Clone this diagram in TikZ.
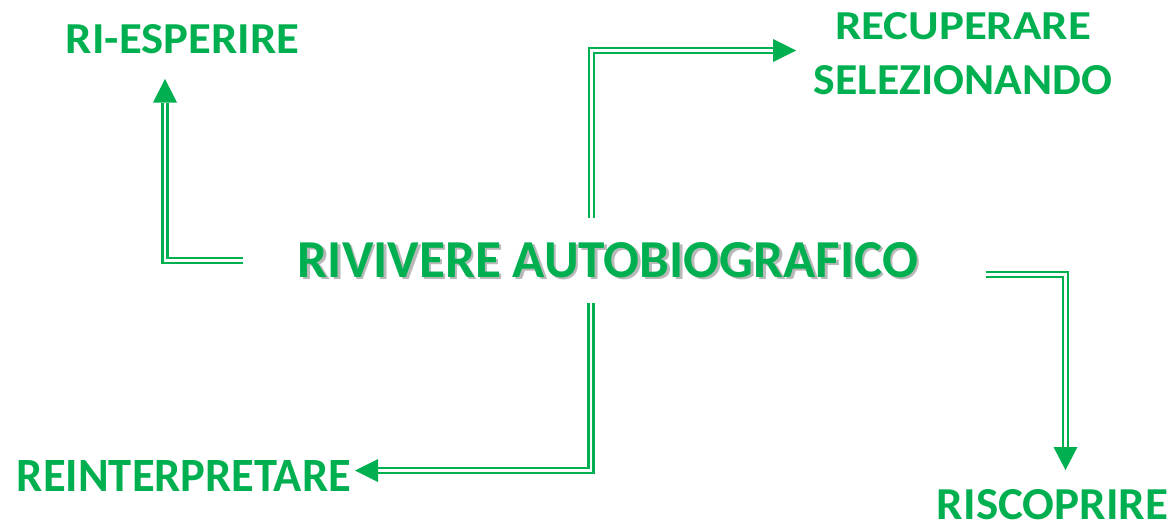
\documentclass[tikz,border=0pt]{standalone}
\usepackage{fontspec}
\setmainfont{Carlito}
\usepackage{graphicx}
\definecolor{pgreen}{HTML}{00B050}
\tikzset{
  lbl/.style={inner sep=0pt, outer sep=0pt, text=pgreen, font=\bfseries},
  dbl/.style={draw=pgreen, line width=2.4pt, double=white, double distance=2.8pt, line join=miter},
  head/.style={fill=pgreen, draw=none}
}
\begin{document}
\begin{tikzpicture}[x=1pt,y=-1pt]
\path[use as bounding box, fill=white] (0,0) rectangle (1170,522);

% central text with shadow
\node[lbl, text=black, opacity=0.28] at (610.5,262.5) {\resizebox{620pt}{35pt}{RIVIVERE AUTOBIOGRAFICO}};
\node[lbl] (center) at (608,260) {\resizebox{620pt}{35pt}{RIVIVERE AUTOBIOGRAFICO}};

% labels
\node[lbl] (riesp) at (182.5,39) {\resizebox{233pt}{29pt}{RI-ESPERIRE}};
\node[lbl, align=center, font=\bfseries\fontsize{42}{55}\selectfont] (recup) at (963,53.5)
  {\resizebox{256pt}{27pt}{RECUPERARE}\\\resizebox{298pt}{29pt}{SELEZIONANDO}};
\node[lbl] (reint) at (184,476) {\resizebox{334pt}{31pt}{REINTERPRETARE}};
\node[lbl] (risco) at (1052.5,504.5) {\resizebox{231pt}{30pt}{RISCOPRIRE}};

% connector coordinates
\coordinate (a1s) at (243,260.5);
\coordinate (a1e) at (165,103);
\coordinate (a2s) at (591.5,218);
\coordinate (a2e) at (774,50.5);
\coordinate (a3s) at (986,274.5);
\coordinate (a3e) at (1065.5,448);
\coordinate (a4s) at (591,303);
\coordinate (a4e) at (377,470.5);

% connectors
\draw[dbl] (a1s) -| (a1e);
\fill[head] (165,79) -- (153,102.5) -- (177,102.5) -- cycle;

\draw[dbl] (a2s) |- (a2e);
\fill[head] (796,50.5) -- (773,39) -- (773,62) -- cycle;

\draw[dbl] (a3s) -| (a3e);
\fill[head] (1065.5,470) -- (1053.5,447) -- (1077.5,447) -- cycle;

\draw[dbl] (a4s) |- (a4e);
\fill[head] (355,470.5) -- (378,459) -- (378,482) -- cycle;
\end{tikzpicture}
\end{document}
